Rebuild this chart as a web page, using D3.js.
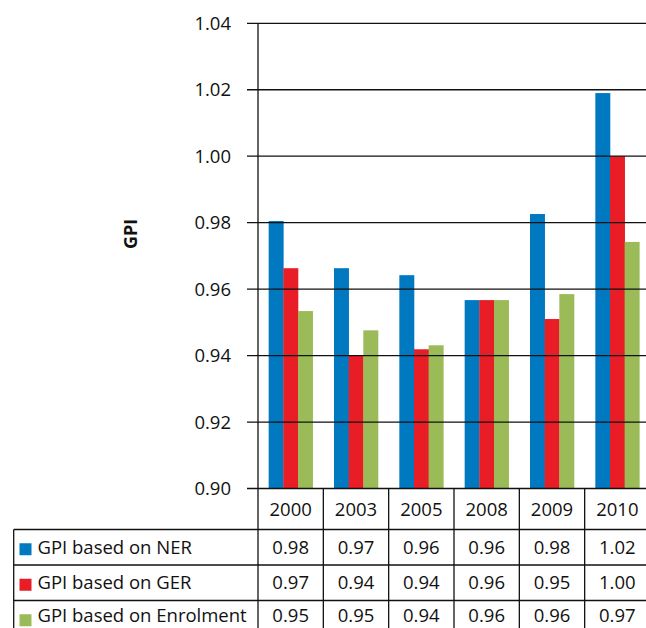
<!DOCTYPE html>
<html><head><meta charset="utf-8">
<script src="https://cdn.jsdelivr.net/npm/d3@7"></script>
<style>
html,body{margin:0;padding:0;background:#fff;}
svg{display:block;}
text{font-family:"Open Sans",Roboto,sans-serif;fill:#111;}
</style></head>
<body>
<svg id="chart" width="646" height="628"></svg>
<script>
const years = ["2000","2003","2005","2008","2009","2010"];
const seriesNames = ["GPI based on NER","GPI based on GER","GPI based on Enrolment"];
const gpiNER   = [0.9805, 0.9663, 0.9642, 0.9567, 0.9826, 1.019];
const gpiGER   = [0.9663, 0.9400, 0.9419, 0.9567, 0.9510, 1.000];
const gpiEnrol = [0.9534, 0.9476, 0.9431, 0.9567, 0.9585, 0.9742];
const yTicks = [0.90, 0.92, 0.94, 0.96, 0.98, 1.00, 1.02, 1.04];
const colors = ["#0079c1", "#e81d25", "#9bbb59"];

const series = [gpiNER, gpiGER, gpiEnrol];
const svg = d3.select("#chart");
const fmt = d3.format(".2f");

const plotLeft = 258, plotRight = 650, plotTop = 23.3, plotBottom = 488.5;
const tableLeft = 13.7;
const headerBottom = 529.5;
const rowH = 35.5;
const fs = 18.5;

const y = d3.scaleLinear().domain([0.90, 1.04]).range([plotBottom, plotTop]);
const x0 = d3.scaleBand().domain(years).range([plotLeft, plotRight]).padding(0);
const groupW = 44;
const x1 = d3.scaleBand().domain([0,1,2]).range([0, groupW]).padding(0);
const off = (x0.bandwidth() - groupW) / 2;

// bars
const g = svg.append("g");
series.forEach((vals, si) => {
  g.selectAll(null).data(vals).enter().append("rect")
    .attr("x", (d, i) => x0(years[i]) + off + x1(si))
    .attr("y", d => y(d))
    .attr("width", x1.bandwidth() + 0.3)
    .attr("height", d => plotBottom - y(d))
    .attr("fill", colors[si]);
});

// gridlines + ticks (drawn over bars)
const axis = svg.append("g");
axis.selectAll(null).data(yTicks).enter().append("line")
  .attr("x1", 247).attr("x2", plotRight)
  .attr("y1", d => y(d)).attr("y2", d => y(d))
  .attr("stroke", "#111").attr("stroke-width", 1.3);
axis.selectAll(null).data(yTicks).enter().append("text")
  .attr("x", 231).attr("y", d => y(d)).attr("dy", "0.36em")
  .attr("text-anchor", "end").attr("font-size", fs)
  .text(d => fmt(d));

// y axis line
axis.append("line").attr("x1", plotLeft).attr("x2", plotLeft)
  .attr("y1", plotTop).attr("y2", 628)
  .attr("stroke", "#111").attr("stroke-width", 1.3);

// y label
svg.append("text")
  .attr("transform", `translate(137,${(plotTop+plotBottom)/2 - 22}) rotate(-90)`)
  .attr("text-anchor", "middle").attr("font-size", 18).attr("font-weight", "bold")
  .text("GPI");

// table
const tbl = svg.append("g");
years.forEach((yr, i) => {
  const xr = x0(yr) + x0.bandwidth();
  tbl.append("line").attr("x1", xr).attr("x2", xr)
    .attr("y1", plotBottom).attr("y2", 628)
    .attr("stroke", "#111").attr("stroke-width", 1.3);
});
[headerBottom, headerBottom + rowH, headerBottom + 2*rowH].forEach(yy => {
  tbl.append("line").attr("x1", tableLeft).attr("x2", plotRight)
    .attr("y1", yy).attr("y2", yy)
    .attr("stroke", "#111").attr("stroke-width", 1.3);
});
tbl.append("line").attr("x1", tableLeft).attr("x2", tableLeft)
  .attr("y1", headerBottom).attr("y2", 628)
  .attr("stroke", "#111").attr("stroke-width", 1.3);

tbl.selectAll(null).data(years).enter().append("text")
  .attr("x", d => x0(d) + x0.bandwidth()/2)
  .attr("y", (plotBottom + headerBottom)/2).attr("dy", "0.36em")
  .attr("text-anchor", "middle").attr("font-size", fs)
  .text(d => d);

series.forEach((vals, si) => {
  const cy = headerBottom + rowH*si + rowH/2;
  // last row sits at the page edge; keep its text fully inside
  const ty = si === 2 ? Math.min(cy, 628 - fs*0.36 - fs*0.3) : cy;
  tbl.append("rect").attr("x", 19.5).attr("y", cy - 4).attr("width", 12).attr("height", 12)
    .attr("fill", colors[si]);
  tbl.append("text").attr("x", 37.5).attr("y", ty).attr("dy", "0.36em")
    .attr("font-size", fs).text(seriesNames[si]);
  tbl.selectAll(null).data(vals).enter().append("text")
    .attr("x", (d, i) => x0(years[i]) + x0.bandwidth()/2)
    .attr("y", ty).attr("dy", "0.36em")
    .attr("text-anchor", "middle").attr("font-size", fs)
    .text(d => fmt(d));
});
</script>
</body></html>
